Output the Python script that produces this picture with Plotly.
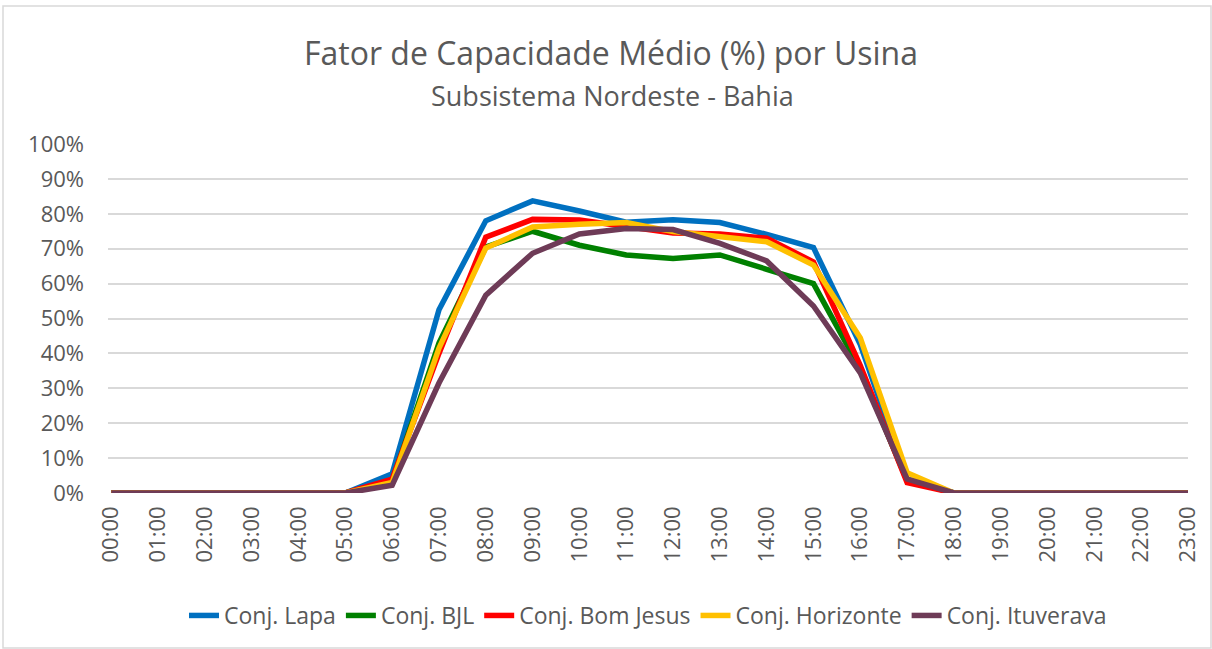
import plotly.graph_objects as go

hours = [f"{h:02d}:00" for h in range(24)]

lapa = [0, 0, 0, 0, 0, 0, 5.5, 52.5, 78.0, 83.7, 80.8, 77.6, 78.3, 77.5, 74.1, 70.3, 42.5, 4.0,
        0, 0, 0, 0, 0, 0]
bjl = [0, 0, 0, 0, 0, 0, 3.5, 43.0, 70.5, 75.0, 71.0, 68.2, 67.2, 68.2, 64.1, 60.0, 35.5, 3.5,
       0, 0, 0, 0, 0, 0]
bom_jesus = [0, 0, 0, 0, 0, 0, 4.0, 40.0, 73.3, 78.4, 78.2, 76.3, 74.5, 74.2, 73.0, 66.2, 36.5, 3.0,
             0, 0, 0, 0, 0, 0]
horizonte = [0, 0, 0, 0, 0, 0, 3.0, 41.5, 70.2, 76.2, 77.0, 77.5, 74.9, 73.4, 72.0, 65.3, 44.4, 5.8,
             0, 0, 0, 0, 0, 0]
ituverava = [0, 0, 0, 0, 0, 0, 2.2, 31.5, 56.7, 68.7, 74.2, 75.8, 75.5, 71.5, 66.5, 53.6, 34.4, 4.0,
             0, 0, 0, 0, 0, 0]

series = [
    ("Conj. Lapa", lapa, "#0070C0"),
    ("Conj. BJL", bjl, "#008000"),
    ("Conj. Bom Jesus", bom_jesus, "#FF0000"),
    ("Conj. Horizonte", horizonte, "#FFC000"),
    ("Conj. Ituverava", ituverava, "#6E3B57"),
]

FONT = "Open Sans"
GRAY = "#595959"

fig = go.Figure()
for name, vals, color in series:
    fig.add_trace(go.Scatter(
        x=list(range(24)), y=vals, name=name, mode="lines",
        line=dict(color=color, width=5.5),
    ))

W, H = 1212, 649
ml, mr, mt, mb = 108, 24, 144, 156
pw, ph = W - ml - mr, H - mt - mb

fig.update_layout(
    width=W, height=H,
    margin=dict(l=ml, r=mr, t=mt, b=mb),
    paper_bgcolor="white", plot_bgcolor="white",
    font=dict(family=FONT, color=GRAY),
    showlegend=True,
    legend=dict(
        orientation="h", x=0.5, xanchor="center", y=-(612 - 493 - 18) / ph, yanchor="top",
        font=dict(size=23, color=GRAY), itemwidth=30, tracegroupgap=0,
    ),
    xaxis=dict(
        range=[-0.07, 23], tickmode="array", tickvals=list(range(24)), ticktext=hours,
        tickangle=-90, tickfont=dict(size=22, color=GRAY), showgrid=False,
        zeroline=False, showline=False, ticks="", fixedrange=True,
        ticklabelstandoff=8,
    ),
    yaxis=dict(
        range=[0, 100], dtick=10, ticksuffix="%", tickfont=dict(size=22, color=GRAY),
        showgrid=True, gridcolor="#D9D9D9", gridwidth=2, zeroline=False,
        showline=False, ticks="", fixedrange=True, ticklabelstandoff=23,
    ),
    annotations=[
        dict(text="Fator de Capacidade Médio (%) por Usina", xref="paper", yref="paper",
             x=(W / 2 + 5 - ml) / pw, y=1 + (mt - 52) / ph, xanchor="center", yanchor="middle",
             showarrow=False, font=dict(size=32, color=GRAY, family=FONT)),
        dict(text="Subsistema Nordeste - Bahia", xref="paper", yref="paper",
             x=(W / 2 + 6 - ml) / pw, y=1 + (mt - 95) / ph, xanchor="center", yanchor="middle",
             showarrow=False, font=dict(size=27, color=GRAY, family=FONT)),
    ],
    shapes=[
        dict(type="rect", xref="paper", yref="paper", layer="below",
             x0=(3 - ml) / pw, x1=(W - 1 - ml) / pw,
             y0=1 + (mt - 6) / ph, y1=-(mb - 1) / ph,
             line=dict(color="#D9D9D9", width=1.5)),
    ],
)

fig.write_html("out.html")
